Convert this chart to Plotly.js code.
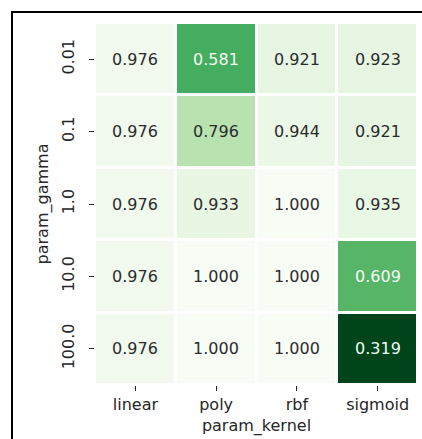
<!DOCTYPE html>
<html>
<head>
<meta charset="utf-8">
<script src="https://cdn.plot.ly/plotly-3.0.1.min.js"></script>
<style>
  html, body { margin: 0; padding: 0; background: #ffffff; }
  #wrap { position: relative; width: 422px; height: 439px; overflow: hidden; }
  #chart { position: absolute; left: 0; top: 0; width: 422px; height: 439px; }
  #frame { position: absolute; left: 11px; top: 11px; width: 460px; height: 480px;
           border-left: 2px solid #000; border-top: 2px solid #000; pointer-events: none; }
</style>
</head>
<body>
<div id="wrap">
  <div id="chart"></div>
  <div id="frame"></div>
</div>
<script>
// Categories
const kernels = ['linear', 'poly', 'rbf', 'sigmoid'];
const gammas = ['0.01', '0.1', '1.0', '10.0', '100.0'];

// Mean test scores, one row per gamma value
const row_g001 = [0.976, 0.581, 0.921, 0.923];
const row_g01  = [0.976, 0.796, 0.944, 0.921];
const row_g1   = [0.976, 0.933, 1.000, 0.935];
const row_g10  = [0.976, 1.000, 1.000, 0.609];
const row_g100 = [0.976, 1.000, 1.000, 0.319];

const z = [row_g001, row_g01, row_g1, row_g10, row_g100];

// matplotlib Greens reversed
const greensR = [
  [0.000, '#00441b'],
  [0.125, '#006d2c'],
  [0.250, '#238b45'],
  [0.375, '#41ab5d'],
  [0.500, '#74c476'],
  [0.625, '#a1d99b'],
  [0.750, '#c7e9c0'],
  [0.875, '#e5f5e0'],
  [1.000, '#f7fcf5']
];

let zmin = Infinity, zmax = -Infinity;
z.forEach(r => r.forEach(v => { zmin = Math.min(zmin, v); zmax = Math.max(zmax, v); }));

// category axes: annotation positions are category indices
const annotations = [];
z.forEach((r, i) => {
  r.forEach((v, j) => {
    const t = (v - zmin) / (zmax - zmin);
    annotations.push({
      x: j, y: i, xref: 'x', yref: 'y',
      text: v.toFixed(3), showarrow: false,
      font: { family: 'DejaVu Sans', size: 16, color: t < 0.45 ? '#f4fbf2' : '#2b2b2b' }
    });
  });
});

const trace = {
  type: 'heatmap',
  x: kernels,
  y: gammas,
  z: z,
  zmin: zmin,
  zmax: zmax,
  colorscale: greensR,
  showscale: false,
  xgap: 3,
  ygap: 3,
  hoverinfo: 'none'
};

const layout = {
  width: 422,
  height: 439,
  margin: { l: 95, r: 4, t: 23, b: 54 },
  paper_bgcolor: '#ffffff',
  plot_bgcolor: '#ffffff',
  font: { family: 'DejaVu Sans', size: 16, color: '#262626' },
  xaxis: {
    type: 'category',
    range: [-0.5, kernels.length - 0.5],
    ticks: 'outside', ticklen: 5, tickwidth: 1, tickcolor: '#262626',
    showgrid: false, zeroline: false, showline: false,
    tickfont: { family: 'DejaVu Sans', size: 16, color: '#262626' },
    title: { text: 'param_kernel', font: { family: 'DejaVu Sans', size: 16, color: '#262626' }, standoff: 6 },
    automargin: false
  },
  yaxis: {
    type: 'category',
    range: [gammas.length - 0.5, -0.5],
    ticks: 'outside', ticklen: 5, tickwidth: 1, tickcolor: '#262626',
    tickangle: -90,
    ticklabelstandoff: 9,
    showgrid: false, zeroline: false, showline: false,
    tickfont: { family: 'DejaVu Sans', size: 16, color: '#262626' },
    title: { text: 'param_gamma', font: { family: 'DejaVu Sans', size: 16, color: '#262626' }, standoff: 5 },
    automargin: false
  },
  annotations: annotations
};

Plotly.newPlot('chart', [trace], layout, { displayModeBar: false, staticPlot: true });
</script>
</body>
</html>
